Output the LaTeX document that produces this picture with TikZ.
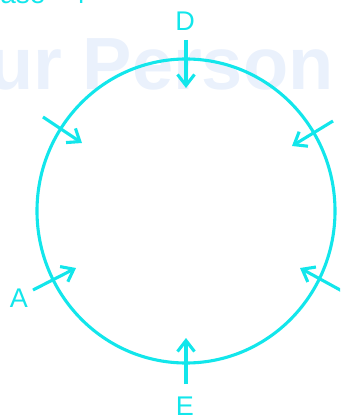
\documentclass[tikz,border=0pt]{standalone}
\usepackage{fontspec}
\setmainfont{Liberation Sans}
\usetikzlibrary{arrows.meta,shapes.geometric}
\definecolor{cy}{RGB}{18,230,235}
\definecolor{wm}{RGB}{234,241,252}
\begin{document}
\begin{tikzpicture}[x=1pt,y=-1pt,
  lbl/.style={text=cy,font=\fontsize{27}{27}\selectfont,inner sep=0pt},
  arr/.style={draw=cy,line width=3.1pt,-{Straight Barb[length=11pt,width=17pt,line width=3.1pt]}},
  ring/.style={draw=cy,line width=3.1pt}]
\useasboundingbox (0,0) rectangle (340,419);
\clip (0,0) rectangle (340,419);
% watermark
\node[anchor=base west,text=wm,inner sep=0pt,font=\fontsize{74}{74}\selectfont\bfseries] (wmk) at (-12,90) {ur Person};
% cut-off heading
\node[anchor=base west,text=cy,inner sep=0pt,font=\fontsize{28}{28}\selectfont] (head) at (-20,4) {Case - 4};
% circle
\node[ring,ellipse,minimum width=298pt,minimum height=304pt,inner sep=0pt] (c) at (186,211) {};
% labels
\node[lbl] (D) at (185,21) {D};
\node[lbl] (E) at (185,406) {E};
\node[lbl] (A) at (19,298) {A};
% coordinates
\coordinate (d1) at (186,40);  \coordinate (d2) at (186,88);
\coordinate (e1) at (186,384); \coordinate (e2) at (186,338);
\coordinate (a1) at (33,290);  \coordinate (a2) at (76,268);
\coordinate (tl1) at (43,117); \coordinate (tl2) at (82,143);
\coordinate (tr1) at (333,121);\coordinate (tr2) at (292,146);
\coordinate (br1) at (342,291);\coordinate (br2) at (300,268);
% arrows
\draw[arr] (d1) -- (d2);
\draw[arr] (e1) -- (e2);
\draw[arr] (a1) -- (a2);
\draw[arr] (tl1) -- (tl2);
\draw[arr] (tr1) -- (tr2);
\draw[arr] (br1) -- (br2);
\end{tikzpicture}
\end{document}
